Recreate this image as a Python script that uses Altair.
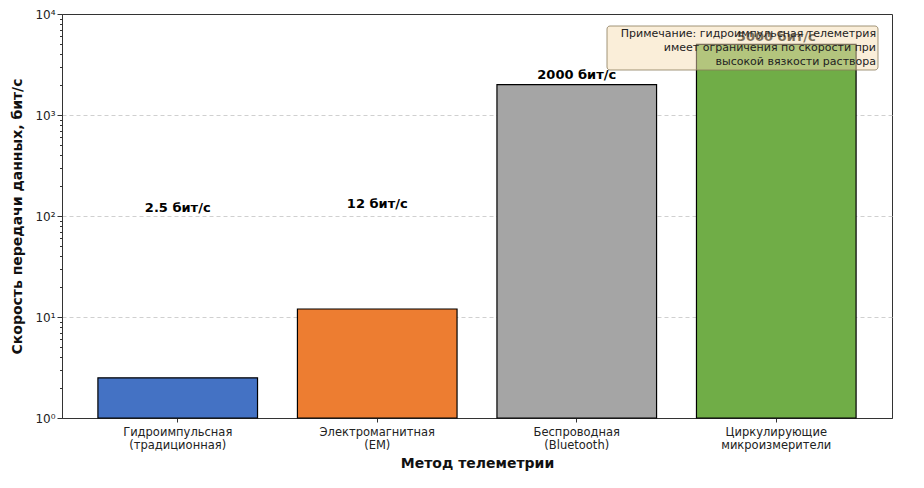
import altair as alt
import pandas as pd

methods = ["Гидроимпульсная|(традиционная)", "Электромагнитная|(EM)",
           "Беспроводная|(Bluetooth)", "Циркулирующие|микроизмерители"]
rates = [2.5, 12, 2000, 5000]
rate_labels = ["2.5 бит/с", "12 бит/с", "2000 бит/с", "5000 бит/с"]
colors = ["#4472C4", "#ED7D31", "#A5A5A5", "#70AD47"]
note_lines = ["Примечание: гидроимпульсная телеметрия",
              "имеет ограничения по скорости при",
              "высокой вязкости раствора"]

major_ticks = [1, 10, 100, 1000, 10000]
minor_ticks = [m * d for d in [1, 10, 100, 1000] for m in range(2, 10)]

df = pd.DataFrame({"method": methods, "rate": rates, "label": rate_labels})

FONT = "DejaVu Sans"
is_major = "abs(log(datum.value)/LN10 - round(log(datum.value)/LN10)) < 1e-6"
inner_major = "(" + is_major + ") && datum.value > 1.5 && datum.value < 9000"

W, H = 830, 404

x_axis = alt.Axis(title="Метод телеметрии", labelAngle=0,
                  labelExpr="split(datum.label, '|')",
                  labelFontSize=11.5, labelColor="#222", labelFont=FONT,
                  titleFontSize=14, titleFontWeight="bold", titleFont=FONT,
                  titleColor="#111", titlePadding=5,
                  tickSize=4, tickColor="#333", domainColor="#333",
                  labelPadding=4)
x_scale = alt.Scale(paddingInner=0.2, paddingOuter=0.18)

y_scale = alt.Scale(type="log", domain=[1, 10000])
y_axis = alt.Axis(title="Скорость передачи данных, бит/с",
                  values=major_ticks + minor_ticks,
                  labelExpr="(" + is_major + ") ? '10' + ['⁰','¹','²','³','⁴'][round(log(datum.value)/LN10)] : ''",
                  labelFontSize=12, labelColor="#222", labelFont=FONT,
                  titleFontSize=14, titleFontWeight="bold", titleFont=FONT,
                  titleColor="#111", titlePadding=10,
                  tickSize={"condition": {"test": is_major, "value": 5}, "value": 2.5},
                  tickColor="#333", domainColor="#333",
                  grid=True, gridDash=[4, 3], gridColor="#d0d0d0",
                  gridOpacity={"condition": {"test": inner_major, "value": 1}, "value": 0})

bars = alt.Chart(df).mark_bar(stroke="black", strokeWidth=1.2).encode(
    x=alt.X("method:N", sort=methods, scale=x_scale, axis=x_axis),
    y=alt.Y("rate:Q", scale=y_scale, axis=y_axis),
    y2=alt.datum(1),
    color=alt.Color("method:N", sort=methods,
                    scale=alt.Scale(domain=methods, range=colors), legend=None),
)

texts = alt.Chart(df).transform_calculate(
    label_y="datum.rate + 100"
).mark_text(fontWeight="bold", fontSize=13, baseline="bottom", font=FONT,
            color="black").encode(
    x=alt.X("method:N", sort=methods, scale=x_scale, axis=x_axis),
    y=alt.Y("label_y:Q", scale=y_scale, axis=y_axis),
    text="label:N",
)

box = alt.Chart(pd.DataFrame({"a": [0]})).mark_rect(
    fill="#f5deb3", fillOpacity=0.5, stroke="#8b7a5a", strokeOpacity=0.8,
    strokeWidth=1, cornerRadius=3
).encode(x=alt.value(545), x2=alt.value(816), y=alt.value(12), y2=alt.value(56))

note_layers = []
for i, line in enumerate(note_lines):
    note_layers.append(
        alt.Chart(pd.DataFrame({"line": [line]})).mark_text(
            align="right", baseline="middle", fontSize=11, font=FONT, color="#222"
        ).encode(x=alt.value(814), y=alt.value(20 + 14 * i), text="line:N")
    )

chart = alt.layer(bars, texts, box, *note_layers).properties(
    width=W, height=H,
    autosize=alt.AutoSizeParams(type="none"),
    padding={"left": 54, "top": 6, "right": 24, "bottom": 60},
).configure_view(stroke="#333", strokeWidth=1)

chart.save("out.html", embed_options={"renderer": "svg", "actions": False})
